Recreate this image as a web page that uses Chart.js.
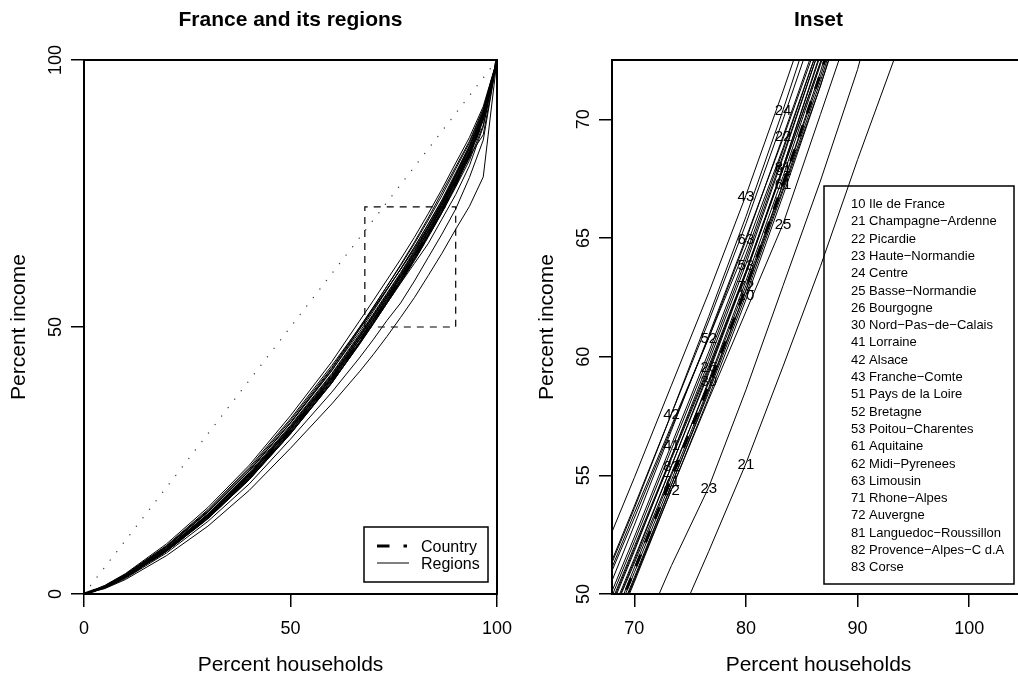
<!DOCTYPE html>
<html><head><meta charset="utf-8">
<script src="https://cdn.jsdelivr.net/npm/chart.js@4.4.1/dist/chart.umd.min.js"></script>
<style>
html,body{margin:0;padding:0;background:#fff;overflow:hidden;width:1018px;height:675px;}
#wrapL{position:absolute;left:0;top:0;width:530px;height:675px;z-index:1;}
#wrapR{position:absolute;left:509px;top:0;width:520px;height:675px;z-index:2;}
canvas{display:block;}
</style></head><body>
<div id="wrapL"><canvas id="cL" width="530" height="675"></canvas></div>
<div id="wrapR"><canvas id="cR" width="520" height="675"></canvas></div>
<script>
// ---- data (percent of households, cumulative percent of income) ----
const pctHouseholds = [0, 5, 10, 20, 30, 40, 50, 60, 66.67, 70, 73.33, 76.67, 80, 83.33, 86.67, 90, 93.33, 96.67, 100];
const country = [0, 1.3, 3.2, 8.2, 14.4, 21.8, 30.5, 40.0, 47.2, 51.0, 54.9, 58.8, 62.9, 67.3, 71.9, 77.0, 82.2, 89.0, 100];
const r10 = [0, 1.2, 3.1, 8.0, 14.2, 21.6, 30.2, 39.7, 46.9, 50.7, 54.6, 58.5, 62.6, 67.0, 71.4, 76.2, 81.2, 87.8, 100];
const r21 = [0, 1.0, 2.7, 7.2, 12.7, 19.4, 27.3, 35.6, 41.6, 44.8, 48.2, 51.8, 55.5, 59.6, 63.8, 68.3, 72.6, 78.1, 100];
const r22 = [0, 1.4, 3.5, 8.8, 15.3, 23.0, 32.0, 41.8, 49.5, 53.2, 57.0, 60.8, 64.9, 69.3, 73.8, 78.9, 83.9, 90.2, 100];
const r23 = [0, 1.1, 2.9, 7.7, 13.6, 20.6, 29.0, 37.8, 44.2, 47.6, 51.2, 54.5, 58.6, 63.0, 67.4, 72.1, 78.0, 85.0, 100];
const r24 = [0, 1.5, 3.7, 9.1, 15.8, 23.7, 32.8, 42.8, 49.8, 53.6, 57.6, 61.7, 65.9, 70.4, 75.2, 80.0, 84.8, 90.9, 100];
const r25 = [0, 1.2, 3.1, 8.0, 14.1, 21.4, 30.0, 39.5, 46.9, 50.6, 54.4, 58.2, 61.9, 65.6, 70.2, 74.8, 80.2, 87.5, 100];
const r26 = [0, 1.3, 3.3, 8.4, 14.8, 22.3, 31.1, 40.7, 48.2, 52.0, 55.8, 59.6, 63.6, 67.9, 72.4, 77.5, 82.9, 89.5, 100];
const r30 = [0, 1.3, 3.2, 8.3, 14.5, 21.9, 30.7, 40.2, 47.2, 51.1, 55.0, 59.0, 63.2, 67.6, 72.3, 77.2, 82.4, 89.1, 100];
const r41 = [0, 1.4, 3.4, 8.6, 15.0, 22.7, 31.6, 41.3, 48.6, 52.4, 56.3, 60.2, 64.3, 68.7, 73.3, 78.4, 83.4, 89.9, 100];
const r42 = [0, 1.5, 3.6, 9.0, 15.6, 23.4, 32.5, 42.4, 49.9, 53.7, 57.6, 61.5, 65.6, 70.0, 74.6, 79.6, 84.5, 90.6, 100];
const r43 = [0, 1.6, 3.8, 9.4, 16.2, 24.1, 33.4, 43.5, 51.1, 54.9, 58.8, 62.7, 66.8, 71.2, 75.8, 80.7, 85.5, 91.3, 100];
const r51 = [0, 1.3, 3.3, 8.4, 14.7, 22.2, 31.0, 40.5, 48.1, 51.9, 55.7, 59.5, 63.5, 67.9, 72.4, 77.4, 82.7, 89.4, 100];
const r52 = [0, 1.5, 3.6, 8.9, 15.4, 23.1, 32.1, 42.2, 49.6, 53.4, 57.1, 60.8, 64.6, 68.8, 73.3, 78.4, 83.6, 90.0, 100];
const r53 = [0, 1.4, 3.4, 8.5, 14.9, 22.4, 31.3, 40.9, 48.0, 51.8, 55.8, 59.8, 63.9, 68.4, 73.1, 78.2, 83.1, 89.6, 100];
const r61 = [0, 1.2, 3.1, 8.0, 14.1, 21.4, 30.0, 39.5, 46.8, 50.6, 54.6, 58.6, 62.8, 67.3, 72.0, 77.2, 82.2, 89.0, 100];
const r62 = [0, 1.2, 3.1, 8.1, 14.2, 21.5, 30.1, 39.6, 46.7, 50.5, 54.4, 58.3, 62.4, 66.8, 71.4, 76.5, 81.8, 88.7, 100];
const r63 = [0, 1.4, 3.5, 8.8, 15.4, 23.1, 32.1, 41.9, 49.0, 52.9, 56.9, 60.9, 65.0, 69.2, 73.6, 78.6, 84.0, 90.3, 100];
const r71 = [0, 1.3, 3.2, 8.2, 14.4, 21.7, 30.4, 39.9, 47.1, 50.9, 54.8, 58.7, 62.8, 67.1, 71.6, 76.6, 82.1, 88.9, 100];
const r72 = [0, 1.3, 3.2, 8.2, 14.4, 21.8, 30.5, 40.1, 47.6, 51.3, 55.1, 58.9, 63.0, 67.3, 71.8, 76.8, 82.3, 89.0, 100];
const r81 = [0, 1.3, 3.3, 8.4, 14.7, 22.2, 31.0, 40.6, 47.6, 51.4, 55.4, 59.4, 63.6, 68.0, 72.8, 78.0, 82.8, 89.4, 100];
const r82 = [0, 1.3, 3.3, 8.3, 14.6, 22.1, 30.9, 40.4, 47.7, 51.5, 55.4, 59.3, 63.5, 68.0, 72.7, 77.8, 82.6, 89.3, 100];
const r83 = [0, 1.4, 3.4, 8.6, 14.9, 22.5, 31.4, 41.1, 48.4, 52.2, 56.1, 60.0, 64.1, 68.5, 73.1, 77.6, 82.0, 86.0, 100];

const regionCodes = ['10','21','22','23','24','25','26','30','41','42','43','51','52','53','61','62','63','71','72','81','82','83'];
const regionNames = ['Ile de France','Champagne\u2212Ardenne','Picardie','Haute\u2212Normandie','Centre','Basse\u2212Normandie','Bourgogne','Nord\u2212Pas\u2212de\u2212Calais','Lorraine','Alsace','Franche\u2212Comte','Pays de la Loire','Bretagne','Poitou\u2212Charentes','Aquitaine','Midi\u2212Pyrenees','Limousin','Rhone\u2212Alpes','Auvergne','Languedoc\u2212Roussillon','Provence\u2212Alpes\u2212C d.A','Corse'];
const regionSeries = [r10,r21,r22,r23,r24,r25,r26,r30,r41,r42,r43,r51,r52,r53,r61,r62,r63,r71,r72,r81,r82,r83];
// household percentage at which each region's code is written in the inset
const labelAtPct = [80, 80, 83.33, 76.67, 83.33, 83.33, 76.67, 76.67, 73.33, 73.33, 80, 83.33, 76.67, 80, 83.33, 73.33, 80, 73.33, 80, 83.33, 73.33, 60];

const equalityX = [0, 100];
const equalityY = [0, 100];
const insetBoxX = [68, 90, 90, 68, 68];
const insetBoxY = [50, 50, 72.5, 72.5, 50];

const leftXTicks = [0, 50, 100];
const leftYTicks = [0, 50, 100];
const rightXTicks = [70, 80, 90, 100];
const rightYTicks = [50, 55, 60, 65, 70];
const leftRange = {xmin: 0, xmax: 100, ymin: 0, ymax: 100};
const rightRange = {xmin: 68, xmax: 105, ymin: 50, ymax: 72.5};

// ---- build ----
const FONT = '"Liberation Sans", Arial, Helvetica, sans-serif';
const pts = (xs, ys) => xs.map((x, i) => ({x: x, y: ys[i]}));

function curveDatasets(withExtras) {
  const ds = [];
  if (withExtras) {
    ds.push({data: pts(equalityX, equalityY), borderColor: '#444', borderWidth: 1.4, borderDash: [0.01, 10.7], borderCapStyle: 'round', showLine: true, pointRadius: 0});
  }
  regionSeries.forEach(s => ds.push({data: pts(pctHouseholds, s), borderColor: '#000', borderWidth: 1, showLine: true, pointRadius: 0}));
  ds.push({data: pts(pctHouseholds, country), borderColor: '#000', borderWidth: 3, borderDash: [12.5, 13], showLine: true, pointRadius: 0});
  if (withExtras) {
    ds.push({data: pts(insetBoxX, insetBoxY), borderColor: '#000', borderWidth: 1.2, borderDash: [7, 6], showLine: true, pointRadius: 0});
  }
  return ds;
}

function scaleCfg(min, max, ticks, fit) {
  return {
    type: 'linear', min: min, max: max,
    afterBuildTicks: s => { s.ticks = ticks.map(v => ({value: v})); },
    ticks: {display: false},
    grid: {display: true, drawOnChartArea: false, drawTicks: true, tickLength: 13, color: '#000', lineWidth: 1.5},
    border: {display: false},
    afterFit: fit
  };
}

function frameText(opts) {
  return {
    id: 'frameText',
    afterDraw(chart) {
      const ctx = chart.ctx, a = chart.chartArea, xs = chart.scales.x, ys = chart.scales.y;
      ctx.save();
      ctx.strokeStyle = '#000'; ctx.fillStyle = '#000';
      ctx.lineWidth = 2;
      ctx.strokeRect(a.left, a.top, a.right - a.left, a.bottom - a.top);
      ctx.font = '18px ' + FONT; ctx.textAlign = 'center'; ctx.textBaseline = 'alphabetic';
      opts.xTicks.forEach(v => ctx.fillText(String(v), xs.getPixelForValue(v), a.bottom + 40));
      opts.yTicks.forEach(v => {
        ctx.save(); ctx.translate(a.left - 23, ys.getPixelForValue(v)); ctx.rotate(-Math.PI / 2);
        ctx.fillText(String(v), 0, 0); ctx.restore();
      });
      ctx.font = '21px ' + FONT;
      const cx = (a.left + a.right) / 2, cy = (a.top + a.bottom) / 2;
      ctx.fillText('Percent households', cx, 671);
      ctx.save(); ctx.translate(a.left - 59, cy); ctx.rotate(-Math.PI / 2);
      ctx.fillText('Percent income', 0, 0); ctx.restore();
      ctx.font = 'bold 21px ' + FONT;
      ctx.fillText(opts.title, cx, 26);
      opts.extra(ctx, chart);
      ctx.restore();
    }
  };
}

function makeChart(id, range, xt, yt, yWidth, padRight, withExtras, title, extra) {
  return new Chart(document.getElementById(id), {
    type: 'scatter',
    data: {datasets: curveDatasets(withExtras)},
    options: {
      responsive: false, animation: false, devicePixelRatio: 1,
      layout: {padding: {left: 0, top: 60, right: padRight, bottom: 0}},
      plugins: {legend: {display: false}, tooltip: {enabled: false}},
      events: [],
      scales: {
        x: scaleCfg(range.xmin, range.xmax, xt, s => { s.height = 81; }),
        y: scaleCfg(range.ymin, range.ymax, yt, s => { s.width = yWidth; })
      }
    },
    plugins: [frameText({xTicks: xt, yTicks: yt, title: title, extra: extra})]
  });
}

makeChart('cL', leftRange, leftXTicks, leftYTicks, 84, 33, true, 'France and its regions', (ctx) => {
  ctx.lineWidth = 1.5; ctx.strokeStyle = '#000';
  ctx.strokeRect(364, 527, 124, 55);
  ctx.save(); ctx.lineWidth = 3; ctx.setLineDash([12.5, 14]);
  ctx.beginPath(); ctx.moveTo(377, 546); ctx.lineTo(407, 546); ctx.stroke(); ctx.restore();
  ctx.lineWidth = 1; ctx.beginPath(); ctx.moveTo(377, 563); ctx.lineTo(409, 563); ctx.stroke();
  ctx.font = '16px ' + FONT; ctx.textAlign = 'left'; ctx.textBaseline = 'alphabetic';
  ctx.fillText('Country', 421, 552);
  ctx.fillText('Regions', 421, 569);
});

makeChart('cR', rightRange, rightXTicks, rightYTicks, 103, 4, false, 'Inset', (ctx, chart) => {
  const a = chart.chartArea, xs = chart.scales.x, ys = chart.scales.y;
  ctx.save();
  ctx.beginPath(); ctx.rect(a.left, a.top, a.right - a.left, a.bottom - a.top); ctx.clip();
  ctx.font = '15px ' + FONT; ctx.textAlign = 'center'; ctx.textBaseline = 'alphabetic';
  regionCodes.forEach((code, i) => {
    const k = pctHouseholds.indexOf(labelAtPct[i]);
    const px = xs.getPixelForValue(pctHouseholds[k]);
    const py = ys.getPixelForValue(regionSeries[i][k]);
    ctx.fillText(code, px, py + 5.5);
  });
  ctx.restore();
  const off = 509;
  ctx.lineWidth = 1.5; ctx.strokeStyle = '#000';
  ctx.strokeRect(824 - off, 186, 190, 398);
  ctx.font = '13px ' + FONT; ctx.textAlign = 'left'; ctx.textBaseline = 'alphabetic';
  regionCodes.forEach((code, i) => {
    ctx.fillText(code + ' ' + regionNames[i], 851 - off, 203.3 + i * 17.3 + 4.7);
  });
});
</script>
</body></html>
